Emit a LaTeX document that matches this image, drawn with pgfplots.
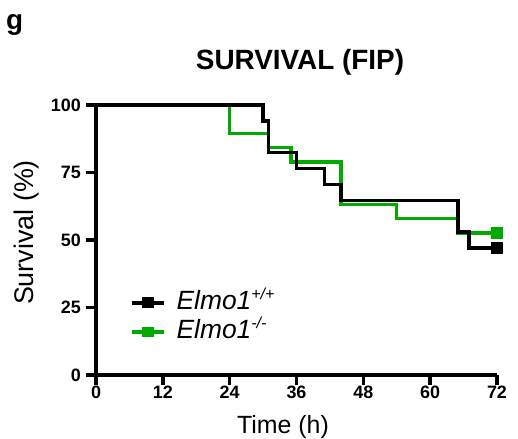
\documentclass[border=0pt]{standalone}
\usepackage{fontspec}
\setmainfont{Liberation Sans}
\usepackage{pgfplots}
\pgfplotsset{compat=1.18}
\definecolor{kogreen}{HTML}{00AA00}
\newcommand{\sups}[1]{\raisebox{10bp}{\fontsize{16}{16}\selectfont\itshape #1}}

\begin{document}
\begin{tikzpicture}
\path[use as bounding box] (-96bp,-64bp) rectangle (422bp,375bp);
\begin{axis}[
  scale only axis,
  width=401bp, height=270bp,
  xmin=0, xmax=72, ymin=0, ymax=100,
  axis x line=bottom, axis y line=left,
  axis line style={line width=3.5bp, black, -},
  xtick={0,12,24,36,48,60,72},
  ytick={0,25,50,75,100},
  tick align=outside,
  major tick length=10bp,
  tick style={line width=3.5bp, black},
  /pgf/number format/assume math mode=true,
  tick label style={font=\bfseries\fontsize{18}{18}\selectfont},
  xticklabel style={inner sep=1bp},
  yticklabel style={inner sep=1bp, xshift=-4bp},
  clip=false,
  legend style={draw=none, fill=none, at={(0.077,0.322)}, anchor=north west,
    font=\fontsize{26.5}{27}\selectfont\itshape, row sep=4.4bp, column sep=11bp,
    nodes={inner sep=0bp, text height=19bp, text depth=6bp}},
  legend cell align=left,
  legend image code/.code={
    \draw[#1] (0bp,0bp) -- (32bp,0bp);
    \fill[#1] (12bp,-3.5bp) rectangle (20bp,3.5bp);
  },
]
% Elmo1 -/- (n = 19)
\addplot[kogreen, line width=3.5bp, const plot, forget plot] coordinates {
  (0,100) (24,89.47) (31,84.21) (35,78.95) (44,63.16) (54,57.89) (65,52.63) (72,52.63)
};
% Elmo1 +/+ (n = 17)
\addplot[black, line width=3.5bp, const plot, forget plot] coordinates {
  (0,100) (30,94.12) (31,82.35) (36,76.47) (41,70.59) (44,64.71) (65,52.94) (67,47.06) (72,47.06)
};
% censored end points
\addplot[only marks, mark=square*, mark size=5.5bp, kogreen, forget plot] coordinates {(72,52.63)};
\addplot[only marks, mark=square*, mark size=5.5bp, black, forget plot] coordinates {(72,47.06)};

\addlegendimage{black, line width=3.5bp}
\addlegendentry{Elmo1\sups{+/+}}
\addlegendimage{kogreen, line width=3.5bp}
\addlegendentry{Elmo1\sups{-/-}}
\end{axis}
\node[font=\bfseries\fontsize{28}{30}\selectfont, anchor=base west, inner sep=0] at (-90bp,345bp) {g};
\node[font=\bfseries\fontsize{28}{30}\selectfont, anchor=base, inner sep=0] at (204bp,305bp) {SURVIVAL (FIP)};
\node[font=\fontsize{27}{30}\selectfont, rotate=90, anchor=base, inner sep=0] at (-62bp,142.5bp) {Survival (\%)};
\node[font=\fontsize{25}{30}\selectfont, anchor=base, inner sep=0] at (187bp,-58bp) {Time (h)};
\end{tikzpicture}
\end{document}
